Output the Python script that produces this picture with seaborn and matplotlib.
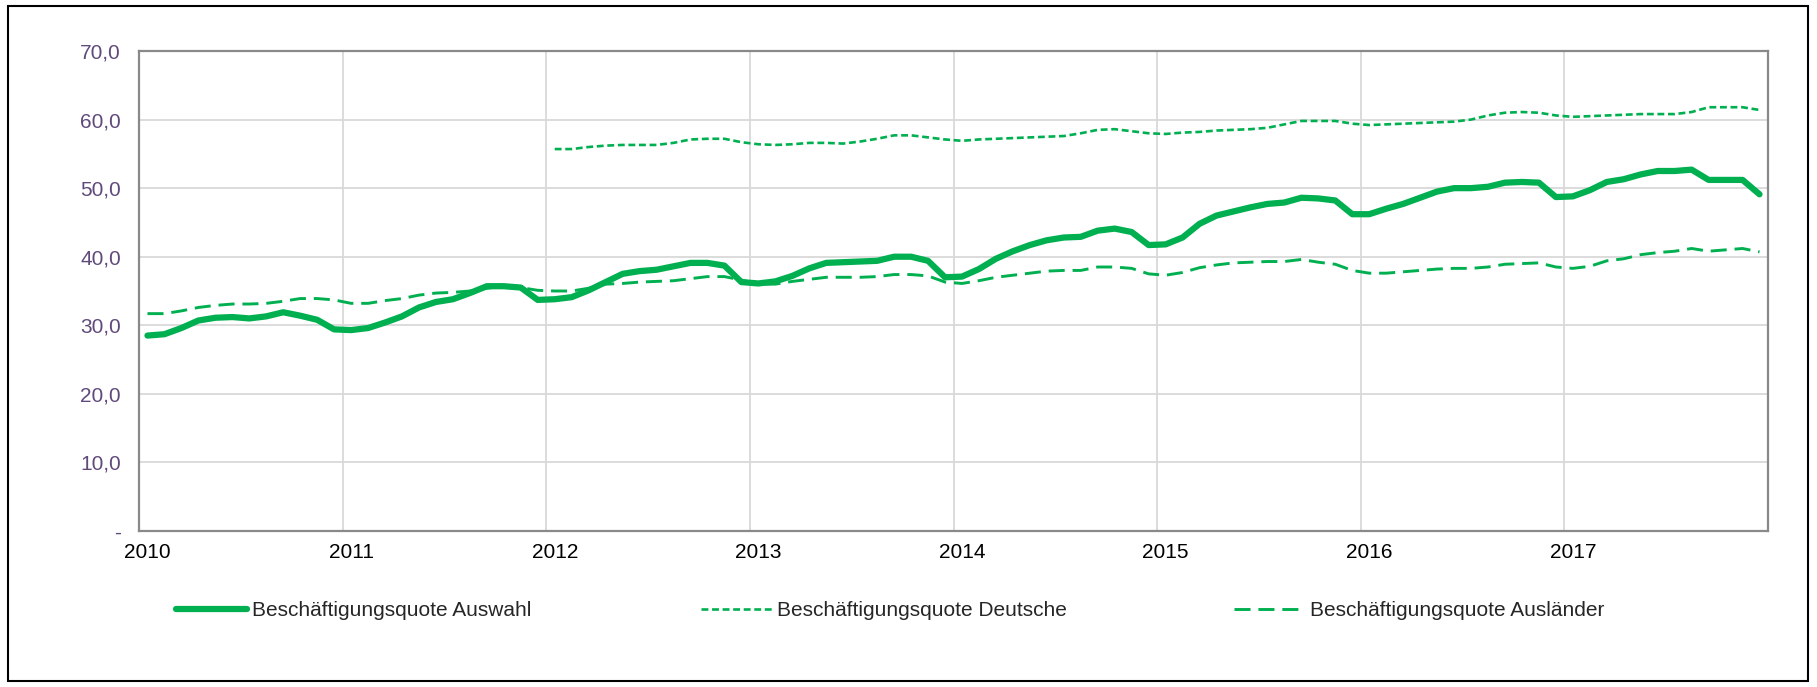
import numpy as np
import pandas as pd
import seaborn as sns
import matplotlib.pyplot as plt
from matplotlib.lines import Line2D
from matplotlib.patches import Rectangle

# monthly values 2010-01 .. 2017-12
years = ["2010", "2011", "2012", "2013", "2014", "2015", "2016", "2017"]

auswahl = [
    28.5, 28.7, 29.6, 30.7, 31.1, 31.2, 31.0, 31.3, 31.9, 31.4, 30.8, 29.4,
    29.3, 29.6, 30.4, 31.3, 32.6, 33.4, 33.8, 34.7, 35.7, 35.7, 35.5, 33.7,
    33.8, 34.1, 35.1, 36.3, 37.5, 37.9, 38.1, 38.6, 39.1, 39.1, 38.7, 36.3,
    36.1, 36.4, 37.2, 38.3, 39.1, 39.2, 39.3, 39.4, 40.0, 40.0, 39.4, 37.0,
    37.1, 38.2, 39.7, 40.8, 41.7, 42.4, 42.8, 42.9, 43.8, 44.1, 43.6, 41.7,
    41.8, 42.8, 44.8, 46.0, 46.6, 47.2, 47.7, 47.9, 48.6, 48.5, 48.2, 46.2,
    46.2, 47.0, 47.7, 48.6, 49.5, 50.0, 50.0, 50.2, 50.8, 50.9, 50.8, 48.7,
    48.8, 49.7, 50.9, 51.3, 52.0, 52.5, 52.5, 52.7, 51.2, 51.2, 51.2, 49.1,
]

auslaender = [
    31.7, 31.7, 32.1, 32.6, 32.9, 33.1, 33.1, 33.2, 33.5, 33.9, 33.9, 33.7,
    33.2, 33.2, 33.6, 33.9, 34.4, 34.7, 34.8, 35.0, 35.4, 35.7, 35.5, 35.1,
    35.0, 35.0, 35.4, 36.0, 36.1, 36.3, 36.4, 36.5, 36.8, 37.1, 37.1, 36.6,
    36.0, 36.0, 36.4, 36.7, 37.0, 37.0, 37.0, 37.1, 37.4, 37.4, 37.2, 36.3,
    36.1, 36.5, 37.0, 37.3, 37.6, 37.9, 38.0, 38.0, 38.5, 38.5, 38.3, 37.5,
    37.3, 37.7, 38.4, 38.8, 39.1, 39.2, 39.3, 39.3, 39.6, 39.2, 38.9, 38.0,
    37.6, 37.6, 37.8, 38.0, 38.2, 38.3, 38.3, 38.5, 38.9, 39.0, 39.1, 38.5,
    38.3, 38.6, 39.4, 39.7, 40.3, 40.6, 40.8, 41.2, 40.8, 41.0, 41.2, 40.7,
]

# Deutsche only from 2012 on
deutsche = [np.nan] * 24 + [
    55.7, 55.7, 56.0, 56.2, 56.3, 56.3, 56.3, 56.6, 57.1, 57.2, 57.2, 56.7,
    56.4, 56.3, 56.4, 56.6, 56.6, 56.5, 56.8, 57.2, 57.7, 57.7, 57.4, 57.1,
    56.9, 57.1, 57.2, 57.3, 57.4, 57.5, 57.6, 58.0, 58.5, 58.6, 58.3, 58.0,
    57.9, 58.1, 58.2, 58.4, 58.5, 58.6, 58.8, 59.3, 59.8, 59.8, 59.8, 59.4,
    59.2, 59.3, 59.4, 59.5, 59.6, 59.7, 60.0, 60.6, 61.0, 61.1, 61.0, 60.6,
    60.4, 60.5, 60.6, 60.7, 60.8, 60.8, 60.8, 61.1, 61.8, 61.8, 61.8, 61.4,
]

y_ticks = [0, 10, 20, 30, 40, 50, 60, 70]
y_labels = ["-", "10,0", "20,0", "30,0", "40,0", "50,0", "60,0", "70,0"]

GREEN = "#00B050"
PURPLE = "#604A7B"

sns.set_style("white")
plt.rcParams['font.family'] = ['Liberation Sans', 'DejaVu Sans']

df = pd.DataFrame({
    "monat": np.arange(len(auswahl)) + 0.5,  # points sit in the middle of each month
    "auswahl": auswahl,
    "deutsche": deutsche,
    "auslaender": auslaender,
})

fig = plt.figure(figsize=(18.17, 6.87), dpi=100)
ax = fig.add_axes([139 / 1817, 1 - 531 / 687, (1768 - 139) / 1817, (531 - 51) / 687])

sns.lineplot(data=df, x="monat", y="auslaender", ax=ax, color=GREEN, lw=2.1,
             linestyle=(0, (5.5, 2.7)))
sns.lineplot(data=df.dropna(), x="monat", y="deutsche", ax=ax, color=GREEN, lw=1.9,
             linestyle=(0, (2.6, 1.4)))
sns.lineplot(data=df, x="monat", y="auswahl", ax=ax, color=GREEN, lw=4.5,
             solid_joinstyle="round", solid_capstyle="round")

ax.set_xlim(0, 96)
ax.set_ylim(0, 70)
ax.set_xlabel("")
ax.set_ylabel("")

# year labels centred on January, gridlines at the year boundary
ax.set_xticks(np.arange(0, 96, 12) + 0.5)
ax.set_xticklabels(years)
ax.set_xticks(np.arange(0, 96, 12), minor=True)
ax.set_yticks(y_ticks)
ax.set_yticklabels(y_labels)

ax.grid(False)
ax.grid(which="minor", axis="x", color="#D9D9D9", lw=1.3)
ax.grid(which="major", axis="y", color="#D9D9D9", lw=1.3)
ax.set_axisbelow(True)

ax.tick_params(axis="x", which="both", length=0, labelsize=15, colors="black", pad=9)
ax.tick_params(axis="y", length=0, labelsize=15, labelcolor=PURPLE, pad=13)

for s in ax.spines.values():
    s.set_visible(True)
    s.set_color("#898989")
    s.set_linewidth(1.6)

# legend entries spread along the bottom like the original
entries = [
    (Line2D([], [], color=GREEN, lw=4.5, solid_capstyle="round"), "Beschäftigungsquote Auswahl", 176),
    (Line2D([], [], color=GREEN, lw=1.9, linestyle=(0, (2.6, 1.4))), "Beschäftigungsquote Deutsche", 701),
    (Line2D([], [], color=GREEN, lw=2.1, linestyle=(0, (5.5, 2.7))), "Beschäftigungsquote Ausländer", 1234),
]
for handle, label, xpos in entries:
    fig.legend([handle], [label], loc="center left", bbox_to_anchor=(xpos / 1817, 1 - 611 / 687),
               frameon=False, fontsize=15, handlelength=3.4, handletextpad=0.27,
               borderpad=0, borderaxespad=0)

# thin black frame around the whole picture
fig.patches.append(Rectangle((8 / 1817, 6 / 687), 1800 / 1817, 675 / 687, transform=fig.transFigure,
                             fill=False, edgecolor="black", lw=1.5))

fig.savefig("out.png", dpi=100)
